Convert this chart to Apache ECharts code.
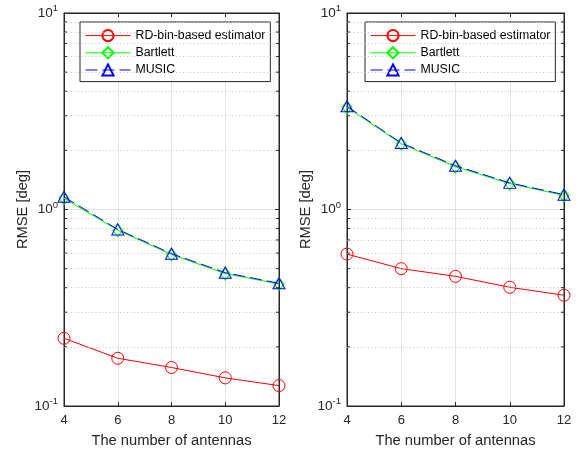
<!DOCTYPE html>
<html>
<head>
<meta charset="utf-8">
<script src="https://cdn.jsdelivr.net/npm/echarts@6/dist/echarts.min.js"></script>
<style>html,body{margin:0;padding:0;background:#fff;}#c{width:581px;height:453px;}</style>
</head>
<body>
<div id="c"></div>
<script>
var antennas = [4, 6, 8, 10, 12];
var seriesNames = ['RD-bin-based estimator', 'Bartlett', 'MUSIC'];
var leftRD = [0.221, 0.175, 0.157, 0.139, 0.127];
var leftBartlett = [1.14, 0.785, 0.59, 0.472, 0.418];
var leftMUSIC = [1.16, 0.792, 0.596, 0.477, 0.421];
var rightRD = [0.593, 0.500, 0.457, 0.402, 0.366];
var rightBartlett = [3.31, 2.16, 1.65, 1.355, 1.18];
var rightMUSIC = [3.35, 2.18, 1.67, 1.366, 1.19];
var yMajorTicks = [0.1, 1, 10];
var yMinorTicks = [0.2, 0.3, 0.4, 0.5, 0.6, 0.7, 0.8, 0.9, 2, 3, 4, 5, 6, 7, 8, 9];
var xTickLabels = ['4', '6', '8', '10', '12'];
var xLabel = 'The number of antennas';
var yLabel = 'RMSE [deg]';

var AX = '#262626';
var FONT = 'Liberation Sans, Arial, Helvetica, sans-serif';

function pairs(vals) { return antennas.map(function (x, i) { return [x, vals[i]]; }); }

function yFormatter(v) {
  var e = Math.round(Math.log10(v));
  return '{b|10}{s|' + e + '}';
}

var grids = [
  { left: 64, top: 13, width: 215, height: 394, show: true, borderColor: AX, borderWidth: 1, backgroundColor: '#fff' },
  { left: 347, top: 13, width: 217, height: 394, show: true, borderColor: AX, borderWidth: 1, backgroundColor: '#fff' }
];

var xAxes = [], yAxes = [];
[0, 1].forEach(function (g) {
  xAxes.push({
    type: 'value', gridIndex: g, min: 4, max: 12, interval: 2, position: 'bottom',
    name: xLabel, nameLocation: 'middle', nameGap: 27,
    nameTextStyle: { color: AX, fontSize: 14.7, fontFamily: FONT },
    axisLine: { lineStyle: { color: AX, width: 1 } },
    axisTick: { inside: true, length: 4, lineStyle: { color: AX } },
    axisLabel: { color: AX, fontSize: 13, fontFamily: FONT, margin: 8,
      formatter: function (v) { return xTickLabels[antennas.indexOf(v)] || ''; } },
    splitLine: { show: true, lineStyle: { color: '#e3e3e3', width: 1 } }
  });
  xAxes.push({
    type: 'value', gridIndex: g, min: 4, max: 12, interval: 2, position: 'top',
    axisLine: { lineStyle: { color: AX, width: 1 } },
    axisTick: { inside: true, length: 4, lineStyle: { color: AX } },
    axisLabel: { show: false }, splitLine: { show: false }
  });
  yAxes.push({
    type: 'log', logBase: 10, gridIndex: g, min: 0.1, max: 10, position: 'left',
    name: yLabel, nameLocation: 'middle', nameGap: 32,
    nameTextStyle: { color: AX, fontSize: 14.7, fontFamily: FONT },
    axisLine: { lineStyle: { color: AX, width: 1 } },
    axisTick: { inside: true, length: 4, lineStyle: { color: AX } },
    axisLabel: { formatter: yFormatter, margin: 6,
      rich: { b: { color: AX, fontSize: 13.5, fontFamily: FONT },
              s: { color: AX, fontSize: 9.5, fontFamily: FONT, padding: [0, 0, 9, 0] } } },
    splitLine: { show: true, lineStyle: { color: '#e3e3e3', width: 1 } }
  });
  yAxes.push({
    type: 'log', logBase: 10, gridIndex: g, min: 0.1, max: 10, position: 'right',
    axisLine: { lineStyle: { color: AX, width: 1 } },
    axisTick: { inside: true, length: 4, lineStyle: { color: AX } },
    axisLabel: { show: false }, splitLine: { show: false }
  });
});

function makeSeries(g, rd, bart, music) {
  var xi = g * 2, yi = g * 2;
  return [
    {
      type: 'line', name: seriesNames[0], xAxisIndex: xi, yAxisIndex: yi, data: pairs(rd),
      symbol: 'circle', symbolSize: 12, z: 3,
      lineStyle: { color: '#ff0000', width: 1 },
      itemStyle: { color: 'rgba(0,0,0,0)', borderColor: '#ff0000', borderWidth: 1 },
      markLine: {
        silent: true, symbol: 'none', label: { show: false }, animation: false,
        lineStyle: { color: '#c6c6c6', type: [1, 2.5], width: 1 },
        data: yMinorTicks.map(function (v) { return { yAxis: v }; })
      }
    },
    {
      type: 'line', name: seriesNames[1], xAxisIndex: xi, yAxisIndex: yi, data: pairs(bart),
      symbol: 'diamond', symbolSize: [10, 13], z: 4,
      lineStyle: { color: '#00ff00', width: 1 },
      itemStyle: { color: 'rgba(0,0,0,0)', borderColor: '#00ff00', borderWidth: 1 }
    },
    {
      type: 'line', name: seriesNames[2], xAxisIndex: xi, yAxisIndex: yi, data: pairs(music),
      symbol: 'triangle', symbolSize: [12, 11], z: 5,
      lineStyle: { color: '#0000ff', width: 1, type: [12, 5] },
      itemStyle: { color: 'rgba(0,0,0,0)', borderColor: '#0000ff', borderWidth: 1 }
    },
    {
      type: 'custom', xAxisIndex: xi, yAxisIndex: yi, silent: true, z: 6,
      data: yMinorTicks.map(function (v) { return [4, v]; }),
      renderItem: function (params, api) {
        var v = api.value(1);
        var a = api.coord([4, v]), b = api.coord([12, v]);
        var st = { stroke: AX, lineWidth: 1 };
        return { type: 'group', children: [
          { type: 'line', shape: { x1: a[0], y1: a[1], x2: a[0] + 3, y2: a[1] }, style: st },
          { type: 'line', shape: { x1: b[0] - 3, y1: b[1], x2: b[0], y2: b[1] }, style: st }
        ] };
      }
    }
  ];
}

var legendCommon = {
  data: seriesNames, orient: 'vertical', top: 22,
  itemWidth: 45, itemHeight: 14, itemGap: 4,
  padding: [7, 5, 5, 5],
  backgroundColor: '#fff', borderColor: AX, borderWidth: 1, borderRadius: 0,
  textStyle: { color: '#000', fontSize: 12.3, fontFamily: FONT },
  lineStyle: { width: 1 },
  selectedMode: false
};

var option = {
  animation: false,
  backgroundColor: '#fff',
  grid: grids,
  xAxis: xAxes,
  yAxis: yAxes,
  legend: [
    Object.assign({}, legendCommon, { left: 80 }),
    Object.assign({}, legendCommon, { left: 365 })
  ],
  series: makeSeries(0, leftRD, leftBartlett, leftMUSIC).concat(makeSeries(1, rightRD, rightBartlett, rightMUSIC))
};

var chart = echarts.init(document.getElementById('c'), null, { renderer: 'canvas' });
chart.setOption(option);
</script>
</body>
</html>
